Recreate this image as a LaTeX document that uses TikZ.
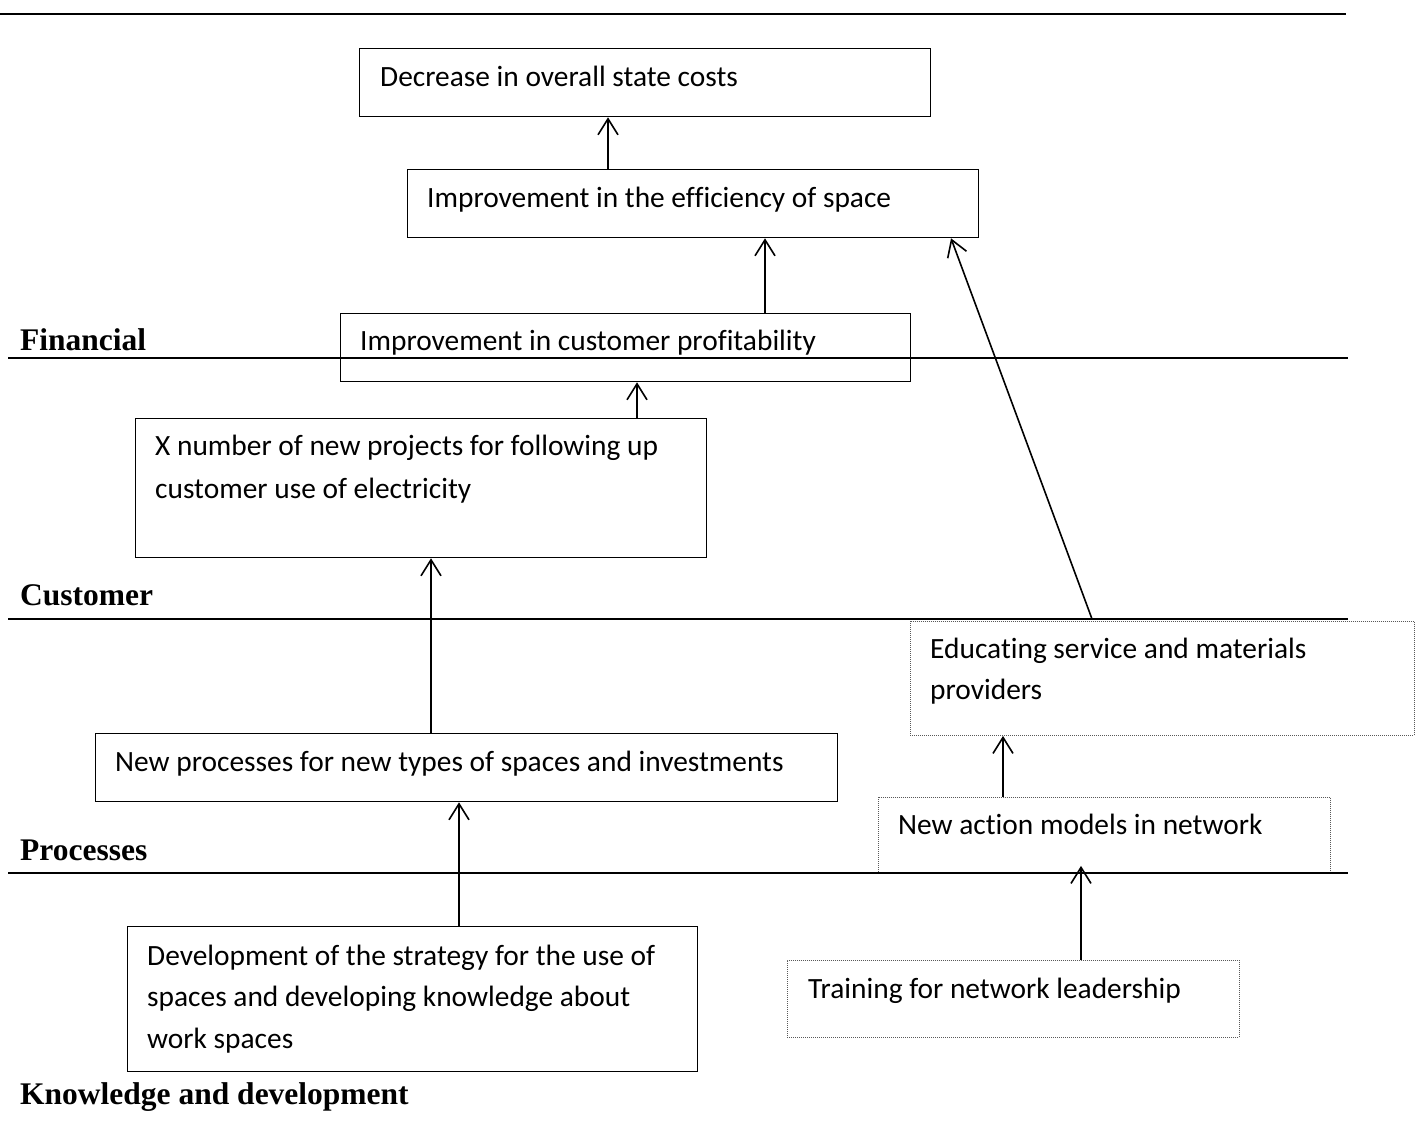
\documentclass[tikz,border=0pt]{standalone}
\usepackage{fontspec}
\setmainfont{Carlito}[Ligatures=NoCommon]
\newfontfamily\lblfont{Liberation Serif}
\usetikzlibrary{arrows.meta}
\begin{document}
\begin{tikzpicture}[x=1pt,y=-1pt,
  box/.style={draw=black,line width=1.3pt,inner sep=0pt,anchor=north west},
  dotbox/.style={draw=black!65,line width=0.9pt,dash pattern=on 1pt off 1pt,inner sep=0pt,anchor=north west},
  txt/.style={anchor=base west,inner sep=0pt,align=left,font=\fontsize{29.4}{42}\selectfont},
  lbl/.style={anchor=base west,inner sep=0pt,font=\lblfont\bfseries\fontsize{31.5}{36}\selectfont},
  arr/.style={line width=1.6pt,-{Straight Barb[length=16pt,width=20pt,line width=1.6pt]}},
  sep/.style={line width=2.5pt}]
\useasboundingbox (0,0) rectangle (1420,1129);
% boxes
\node[box,minimum width=571pt,minimum height=68pt] (b1) at (359,48) {};
\node[box,minimum width=571pt,minimum height=68pt] (b2) at (407,169) {};
\node[box,minimum width=570pt,minimum height=68pt] (b3) at (340,313) {};
\node[box,minimum width=571pt,minimum height=139pt] (b4) at (135,418) {};
\node[box,minimum width=742pt,minimum height=68pt] (b5) at (95,733) {};
\node[box,minimum width=570pt,minimum height=145pt] (b6) at (127,926) {};
\node[dotbox,minimum width=504pt,minimum height=114pt] (b7) at (910,621) {};
\node[dotbox,minimum width=452pt,minimum height=76pt] (b8) at (878,797) {};
\node[dotbox,minimum width=452pt,minimum height=77pt] (b9) at (787,960) {};
% texts (multi-line nodes are placed by the baseline of their last line)
\node[txt] (t1) at (380,87) {Decrease in overall state costs};
\node[txt] (t2) at (427,207) {Improvement in the efficiency of space};
\node[txt] (t3) at (360,350) {Improvement in customer profitability};
\node[txt,font=\fontsize{29.4}{43}\selectfont] (t4) at (155,498) {X number of new projects for following up\\customer use of electricity};
\node[txt] (t5) at (115,771) {New processes for new types of spaces and investments};
\node[txt,font=\fontsize{29.4}{41.5}\selectfont] (t6) at (147,1048) {Development of the strategy for the use of\\spaces and developing knowledge about\\work spaces};
\node[txt,font=\fontsize{29.4}{41}\selectfont] (t7) at (930,699) {Educating service and materials\\providers};
\node[txt] (t8) at (898,834) {New action models in network};
\node[txt] (t9) at (808,998) {Training for network leadership};
% separator lines
\draw[sep] (0,14) -- (1346,14);
\draw[sep] (8,358) -- (1348,358);
\draw[sep] (8,619) -- (1348,619);
\draw[sep] (8,873) -- (1348,873);
% labels
\node[lbl] (l1) at (20,350) {Financial};
\node[lbl] (l2) at (20,605) {Customer};
\node[lbl] (l3) at (20,860) {Processes};
\node[lbl] (l4) at (20,1104) {Knowledge and development};
% arrows
\draw[arr] ([xshift=201pt]b2.north west) -- ([xshift=201pt]b2.north west |- b1.south);
\draw[arr] ([xshift=425pt]b3.north west) -- ([xshift=425pt]b3.north west |- b2.south);
\draw[arr] ([xshift=502pt]b4.north west) -- ([xshift=502pt]b4.north west |- b3.south);
\draw[arr] ([xshift=336pt]b5.north west) -- ([xshift=336pt]b5.north west |- b4.south);
\draw[arr] ([xshift=332pt]b6.north west) -- ([xshift=332pt]b6.north west |- b5.south);
\draw[arr] ([xshift=182pt,yshift=2pt]b7.north west) -- ([xshift=544pt]b2.south west);
\draw[arr] ([xshift=125pt]b8.north west) -- ([xshift=125pt]b8.north west |- b7.south);
\draw[arr] ([xshift=294pt]b9.north west) -- ([xshift=203pt,yshift=8pt]b8.south west);
\end{tikzpicture}
\end{document}
